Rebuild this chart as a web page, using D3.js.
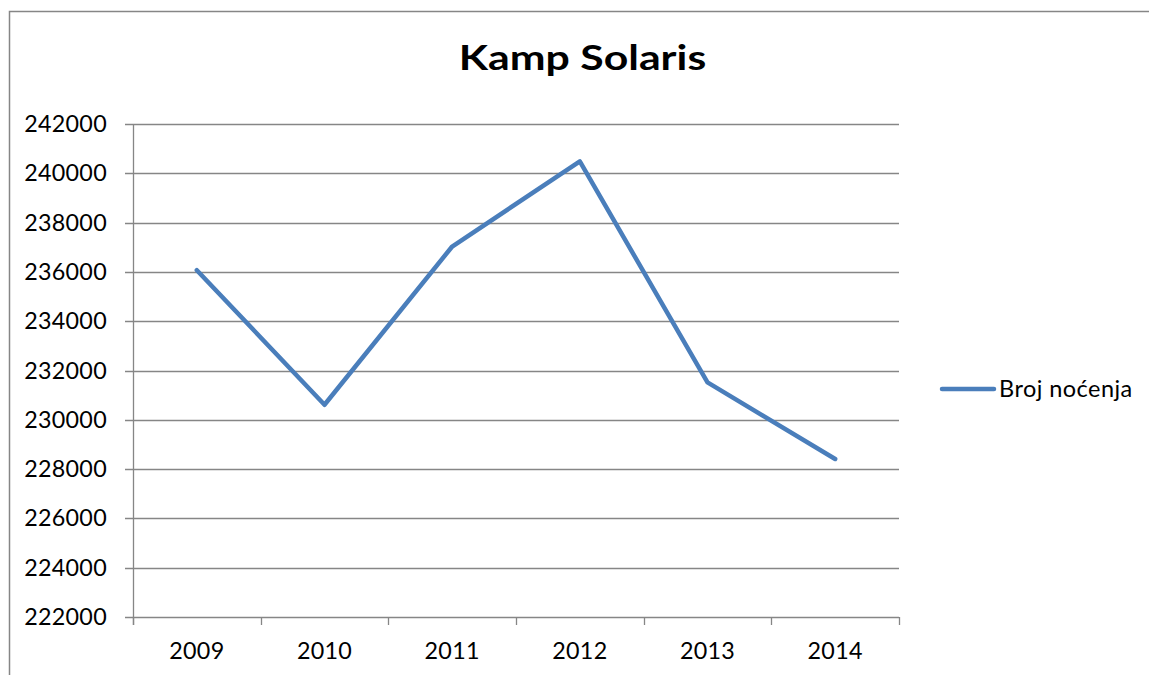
<!DOCTYPE html>
<html>
<head>
<meta charset="utf-8">
<script src="https://cdn.jsdelivr.net/npm/d3@7"></script>
<style>
  html, body { margin: 0; padding: 0; background: #fff; }
  svg { display: block; }
  text { font-family: Lato, "Open Sans", sans-serif; fill: #000; }
</style>
</head>
<body>
<svg id="chart" width="1149" height="675"></svg>
<script>
const years = ["2009", "2010", "2011", "2012", "2013", "2014"];
const brojNocenja = [236070, 230610, 237030, 240480, 231520, 228410];
const yTicks = [222000, 224000, 226000, 228000, 230000, 232000, 234000, 236000, 238000, 240000, 242000];
const seriesName = "Broj noćenja";
const chartTitle = "Kamp Solaris";

const svg = d3.select("#chart");
const W = 1149, H = 675;
const plot = { left: 133, right: 899, top: 124, bottom: 617 };
const gridColor = "#868686";
const lineColor = "#4A7EBB";

// outer frame (top and left visible)
svg.append("path")
  .attr("d", `M9.5,${H} V11.5 H${W}`)
  .attr("fill", "none").attr("stroke", gridColor).attr("stroke-width", 1.5);

const x = d3.scaleBand().domain(years).range([plot.left, plot.right]).padding(0);
const y = d3.scaleLinear().domain([222000, 242000]).range([plot.bottom, plot.top]);

// horizontal gridlines
svg.append("g").selectAll("line").data(yTicks).join("line")
  .attr("x1", plot.left - 8).attr("x2", plot.right)
  .attr("y1", d => Math.round(y(d)) + 0.5).attr("y2", d => Math.round(y(d)) + 0.5)
  .attr("stroke", gridColor).attr("stroke-width", 1.3);

// y axis line
svg.append("line")
  .attr("x1", plot.left + 0.5).attr("x2", plot.left + 0.5)
  .attr("y1", plot.top).attr("y2", plot.bottom + 8)
  .attr("stroke", gridColor).attr("stroke-width", 1.3);

// y labels
svg.append("g").selectAll("text").data(yTicks).join("text")
  .attr("x", 107).attr("y", d => y(d) + 8)
  .attr("text-anchor", "end")
  .style("font-size", "23.3px")
  .style("letter-spacing", "0.3px")
  .text(d => d);

// x ticks at band boundaries
const boundaries = years.map(d => x(d)).concat([x(years[years.length - 1]) + x.bandwidth()]);
svg.append("g").selectAll("line").data(boundaries).join("line")
  .attr("x1", d => Math.round(d) + 0.5).attr("x2", d => Math.round(d) + 0.5)
  .attr("y1", plot.bottom).attr("y2", plot.bottom + 8)
  .attr("stroke", gridColor).attr("stroke-width", 1.3);

// x labels
svg.append("g").selectAll("text").data(years).join("text")
  .attr("x", d => x(d) + x.bandwidth() / 2)
  .attr("y", 659)
  .attr("text-anchor", "middle")
  .style("font-size", "23.3px")
  .style("letter-spacing", "0.3px")
  .text(d => d);

// line
const line = d3.line()
  .x((d, i) => x(years[i]) + x.bandwidth() / 2)
  .y(d => y(d));
svg.append("path")
  .datum(brojNocenja)
  .attr("d", line)
  .attr("fill", "none")
  .attr("stroke", lineColor)
  .attr("stroke-width", 4.5)
  .attr("stroke-linejoin", "round")
  .attr("stroke-linecap", "round");

// title
svg.append("text")
  .attr("transform", "translate(582.5,69.5) scale(1.24,1)")
  .attr("text-anchor", "middle")
  .style("font-size", "34.5px").style("font-weight", "bold")
  .text(chartTitle);

// legend
svg.append("line")
  .attr("x1", 942).attr("x2", 994).attr("y1", 389).attr("y2", 389)
  .attr("stroke", lineColor).attr("stroke-width", 4.5).attr("stroke-linecap", "round");
svg.append("text")
  .attr("x", 999).attr("y", 397)
  .style("font-size", "23.5px")
  .style("letter-spacing", "0.45px")
  .text(seriesName);
</script>
</body>
</html>
